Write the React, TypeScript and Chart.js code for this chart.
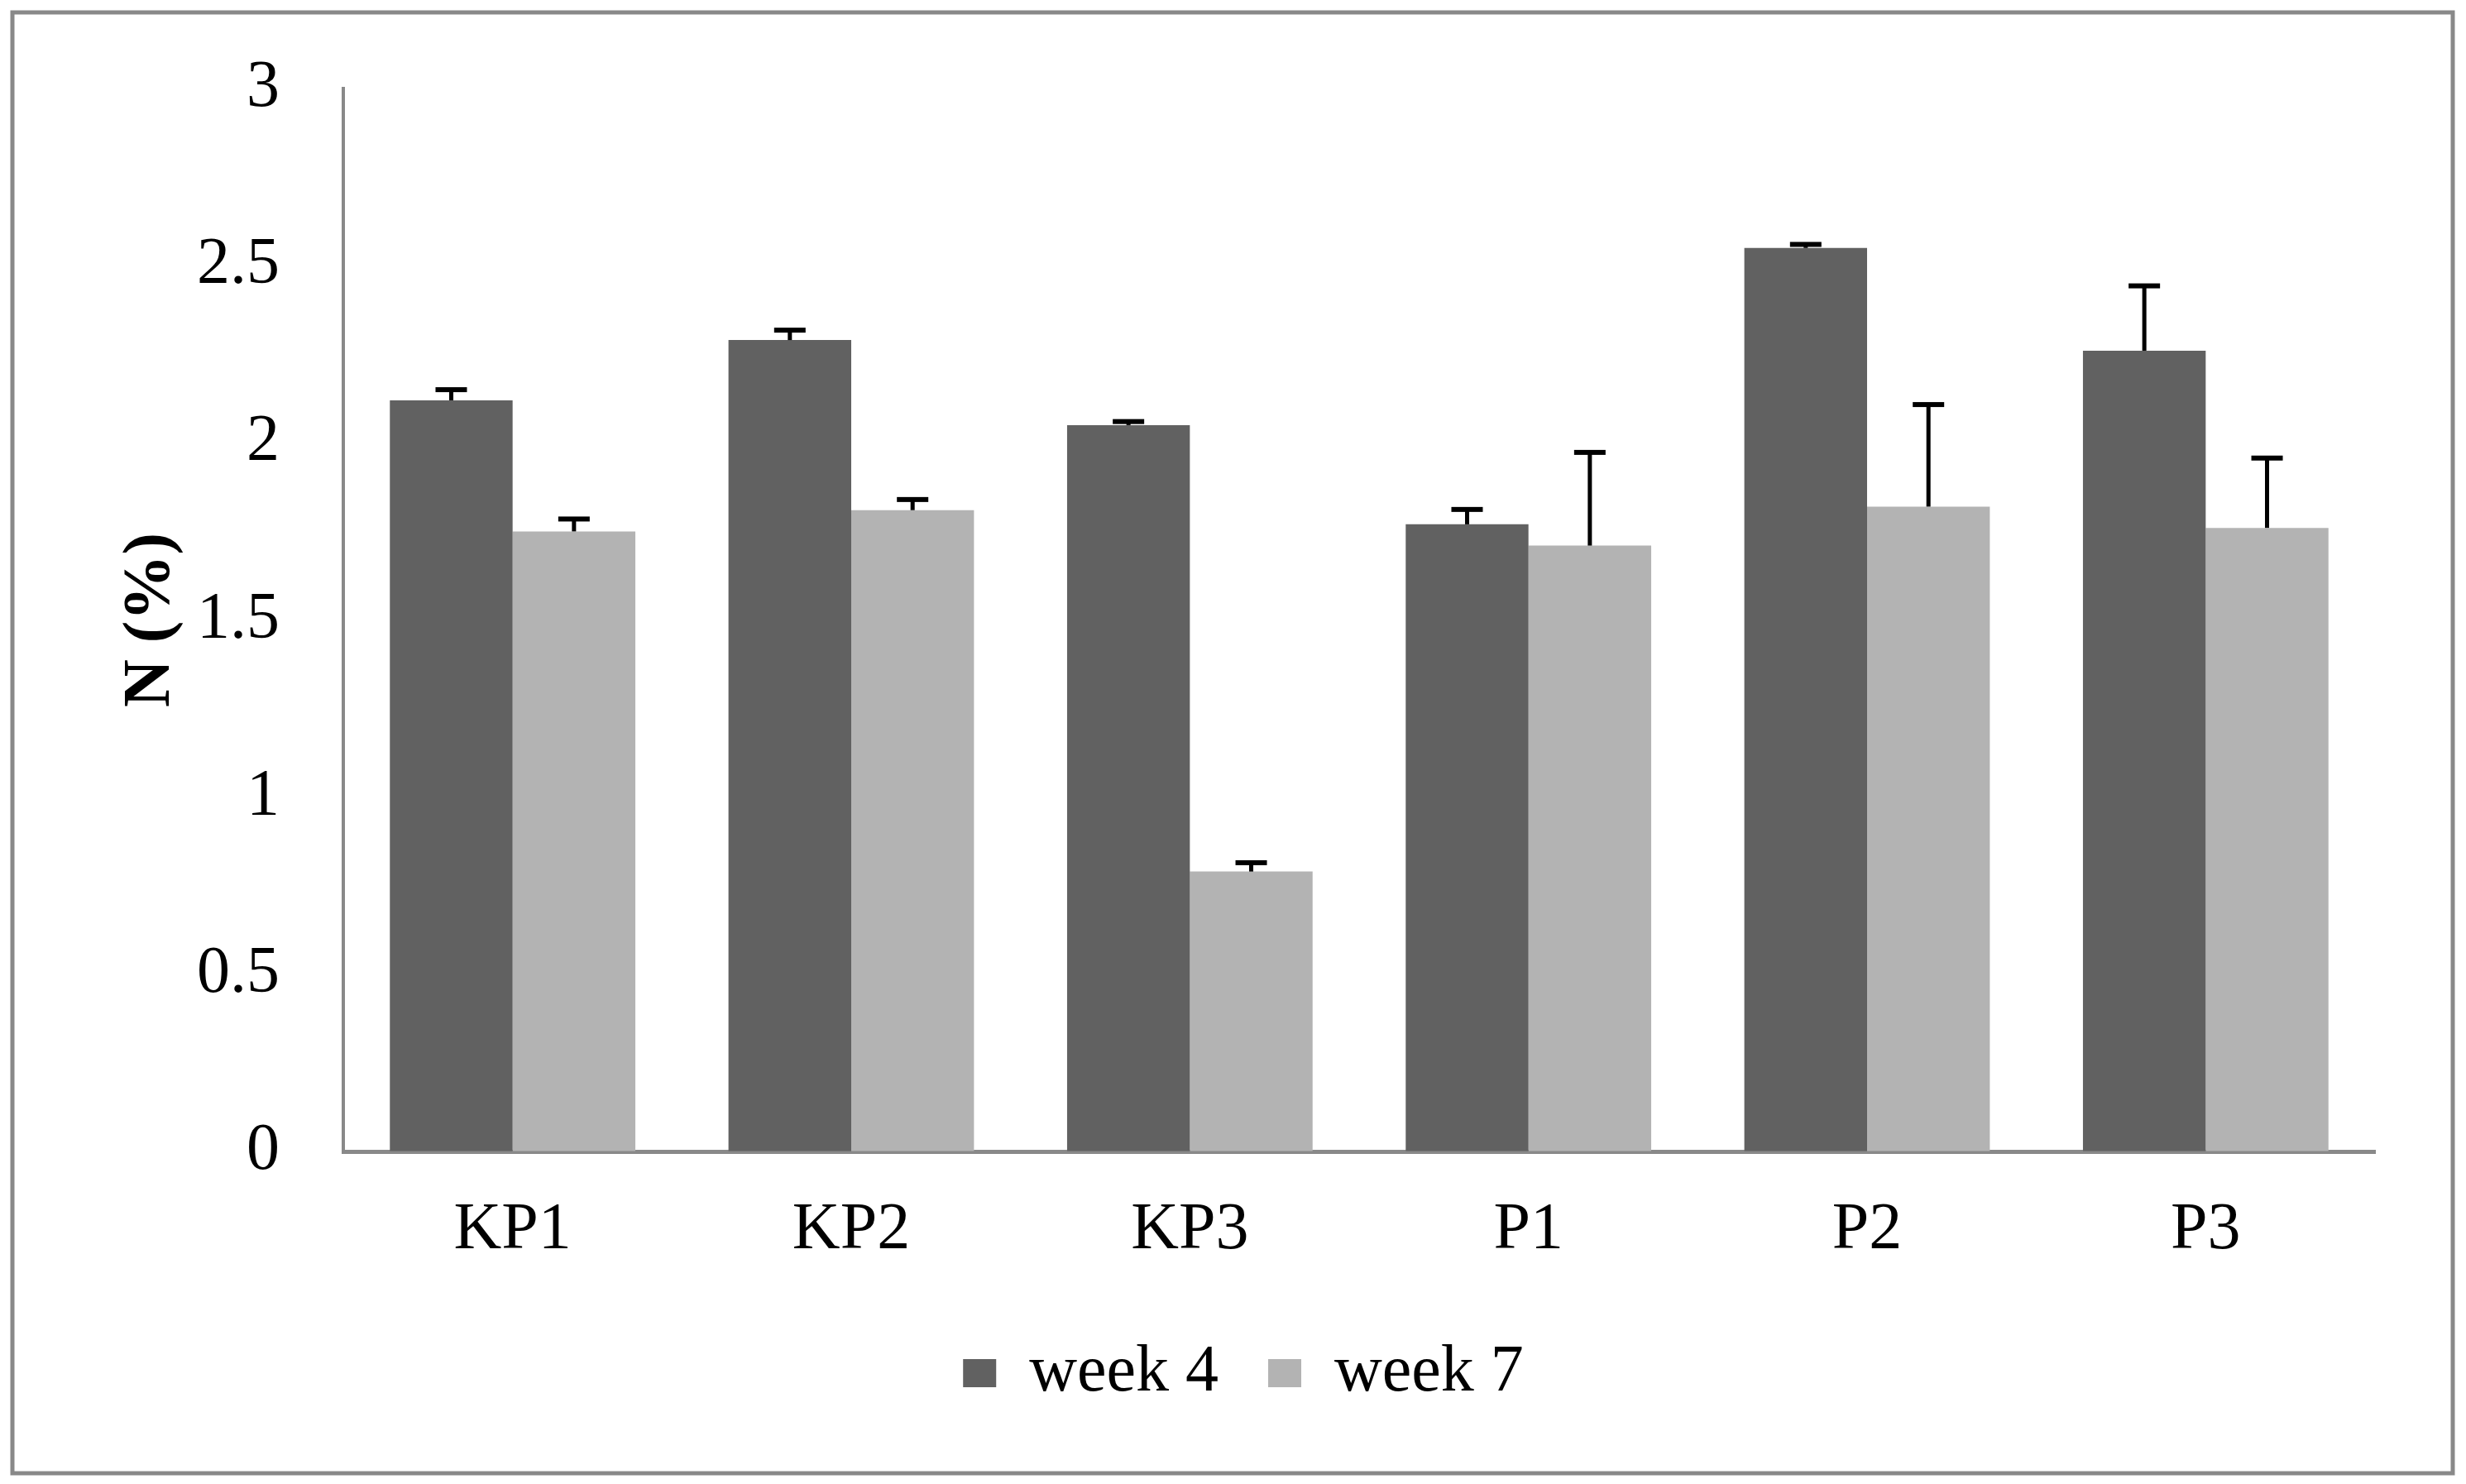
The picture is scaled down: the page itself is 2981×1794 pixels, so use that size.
import React, { useEffect, useRef } from "react";
import { Chart, registerables } from "chart.js";

Chart.register(...registerables);

const categories = ["KP1", "KP2", "KP3", "P1", "P2", "P3"];
const seriesNames = ["week 4", "week 7"];
const week4 = [2.12, 2.29, 2.05, 1.77, 2.55, 2.26];
const week7 = [1.75, 1.81, 0.79, 1.71, 1.82, 1.76];
const week4Err = [0.03, 0.028, 0.01, 0.042, 0.01, 0.183];
const week7Err = [0.035, 0.03, 0.025, 0.263, 0.288, 0.197];
const yTicks = [0, 0.5, 1, 1.5, 2, 2.5, 3];

const errorSets = [week4Err, week7Err];
const FONT = "'Liberation Serif', 'Times New Roman', serif";

const errorBarPlugin = {
  id: "errorBars",
  afterDatasetsDraw(chart: any) {
    const { ctx } = chart;
    const yScale = chart.scales.y;
    chart.data.datasets.forEach((ds: any, di: number) => {
      const meta = chart.getDatasetMeta(di);
      const errs = errorSets[di];
      meta.data.forEach((bar: any, i: number) => {
        const x = bar.x;
        const yBase = bar.y;
        const yTop = yScale.getPixelForValue(ds.data[i] + errs[i]);
        ctx.save();
        ctx.strokeStyle = "#000";
        ctx.lineWidth = 5;
        ctx.beginPath();
        ctx.moveTo(x, yBase);
        ctx.lineTo(x, yTop);
        ctx.stroke();
        ctx.fillStyle = "#000";
        ctx.fillRect(x - 19, yTop - 3, 38, 6);
        ctx.restore();
      });
    });
  },
};

const framePlugin = {
  id: "frame",
  beforeDraw(chart: any) {
    const { ctx, width, height } = chart;
    ctx.save();
    ctx.fillStyle = "#fff";
    ctx.fillRect(0, 0, width, height);
    ctx.strokeStyle = "#898989";
    ctx.lineWidth = 5;
    ctx.strokeRect(15, 15, width - 31, height - 28);
    ctx.restore();
  },
};

export default function App() {
  const ref = useRef<HTMLCanvasElement | null>(null);

  useEffect(() => {
    if (!ref.current) return;
    const chart = new Chart(ref.current, {
      type: "bar",
      data: {
        labels: categories,
        datasets: [
          {
            label: seriesNames[0],
            data: week4,
            backgroundColor: "#616161",
            categoryPercentage: 0.725,
            barPercentage: 1,
          },
          {
            label: seriesNames[1],
            data: week7,
            backgroundColor: "#b3b3b3",
            categoryPercentage: 0.725,
            barPercentage: 1,
          },
        ],
      },
      options: {
        animation: false,
        responsive: false,
        devicePixelRatio: 1,
        layout: { padding: { left: 135, right: 110, top: 107, bottom: 84 } },
        plugins: {
          legend: {
            position: "bottom",
            labels: {
              font: { family: FONT, size: 80 },
              color: "#000",
              boxWidth: 40,
              boxHeight: 34,
              padding: 60,
            },
          },
          tooltip: { enabled: false },
        },
        scales: {
          x: {
            z: 1,
            grid: { display: false, drawTicks: false },
            border: { display: true, color: "#898989", width: 5 },
            ticks: {
              font: { family: FONT, size: 80 },
              color: "#000",
              padding: 48,
            },
            afterFit: (scale: any) => {
              scale.height = 168;
            },
          },
          y: {
            min: 0,
            max: 3,
            afterBuildTicks: (scale: any) => {
              scale.ticks = yTicks.map((v) => ({ value: v }));
            },
            grid: {
              display: true,
              drawOnChartArea: false,
              drawTicks: true,
              tickLength: 70,
              tickColor: "rgba(0,0,0,0)",
            },
            border: { display: true, color: "#898989", width: 4 },
            ticks: {
              font: { family: FONT, size: 80 },
              color: "#000",
              padding: 7,
              callback: (value: any) => `${Number(value)}`,
            },
            title: {
              display: true,
              text: "N (%)",
              font: { family: FONT, size: 80, weight: "bold" },
              color: "#000",
              padding: 0,
            },
            afterFit: (scale: any) => {
              scale.width = 280;
            },
          },
        },
      },
      plugins: [framePlugin, errorBarPlugin],
    });
    return () => chart.destroy();
  }, []);

  return (
    <div style={{ position: "fixed", left: 0, top: 0, width: 2981, height: 1794, background: "#fff" }}>
      <canvas ref={ref} width={2981} height={1794} style={{ display: "block" }} />
    </div>
  );
}
